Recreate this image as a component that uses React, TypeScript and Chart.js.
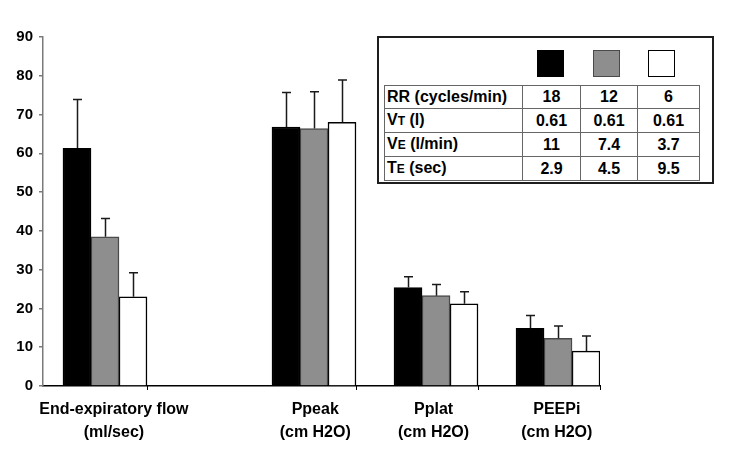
import React, { useEffect, useRef } from "react";
import { Chart, registerables } from "chart.js";

Chart.register(...registerables);

// ---- data ----
const categoryLabels: string[][] = [
  ["End-expiratory flow", "(ml/sec)"],
  ["Ppeak", "(cm H2O)"],
  ["Pplat", "(cm H2O)"],
  ["PEEPi", "(cm H2O)"],
];
const seriesNames = ["RR 18", "RR 12", "RR 6"];
const rr18Values = [61.3, 66.8, 25.4, 14.9];
const rr18Sd = [12.6, 8.9, 2.8, 3.3];
const rr12Values = [38.5, 66.4, 23.3, 12.3];
const rr12Sd = [4.7, 9.5, 2.9, 3.2];
const rr6Values = [23.0, 68.0, 21.2, 9.0];
const rr6Sd = [6.2, 10.9, 3.1, 3.9];

const rowHeads = ["RR", "V", "V", "T"];
const rowSubs = ["", "T", "E", "E"];
const rowUnits = [" (cycles/min)", " (l)", " (l/min)", " (sec)"];
const rrRow = ["18", "12", "6"];
const vtRow = ["0.61", "0.61", "0.61"];
const veRow = ["11", "7.4", "3.7"];
const teRow = ["2.9", "4.5", "9.5"];

// ---- layout (not data) ----
const groupPos = [0.287, 2, 3, 4];
const labelPos = [0.36, 2.01, 2.98, 3.99];
const xMin = -0.221;
const xMax = 4.344;
const halfGroup = 0.342;

const FONT = "'Liberation Sans', Arial, Helvetica, sans-serif";
const fills = ["#000000", "#8e8e8e", "#ffffff"];
const borders = ["#000000", "#4a4a4a", "#000000"];

const allValues = [rr18Values, rr12Values, rr6Values];
const allSd = [rr18Sd, rr12Sd, rr6Sd];
const tableValues = [rrRow, vtRow, veRow, teRow];

const errorBarPlugin = {
  id: "errorBars",
  afterDatasetsDraw(chart: any) {
    const ctx = chart.ctx;
    const yScale = chart.scales.y;
    ctx.save();
    ctx.strokeStyle = "#1a1a1a";
    ctx.lineWidth = 1.5;
    allValues.forEach((vals, d) => {
      const meta = chart.getDatasetMeta(d);
      meta.data.forEach((bar: any, i: number) => {
        const x = Math.round(bar.x) + 0.5;
        const yTop = yScale.getPixelForValue(vals[i] + allSd[d][i]);
        const yBar = bar.y;
        ctx.beginPath();
        ctx.moveTo(x, yBar);
        ctx.lineTo(x, yTop);
        ctx.moveTo(x - 4.5, yTop);
        ctx.lineTo(x + 4.5, yTop);
        ctx.stroke();
      });
    });
    ctx.restore();
  },
};

const boundaryTickPlugin = {
  id: "boundaryTicks",
  afterDraw(chart: any) {
    const ctx = chart.ctx;
    const xScale = chart.scales.x;
    const bottom = chart.chartArea.bottom;
    ctx.save();
    ctx.strokeStyle = "#000";
    ctx.lineWidth = 1;
    groupPos.forEach((g) => {
      const px = Math.round(xScale.getPixelForValue(g + halfGroup)) + 0.5;
      ctx.beginPath();
      ctx.moveTo(px, bottom);
      ctx.lineTo(px, bottom + 4);
      ctx.stroke();
    });
    ctx.restore();
  },
};

function LegendTable() {
  const colW = [138, 58, 57, 62];
  const cell = (extra: any) => ({
    border: "1px solid #666",
    height: 22,
    padding: 0,
    fontFamily: FONT,
    fontWeight: 700,
    fontSize: 16,
    color: "#000",
    lineHeight: "22px",
    whiteSpace: "nowrap" as const,
    ...extra,
  });
  return (
    <div
      style={{
        position: "absolute",
        left: 377,
        top: 36,
        width: 333,
        height: 144,
        border: "2px solid #1e1e1e",
        background: "#fff",
        boxSizing: "content-box",
      }}
    >
      {fills.map((f, i) => (
        <div
          key={i}
          title={seriesNames[i]}
          style={{
            position: "absolute",
            left: [158, 214, 269][i],
            top: 12,
            width: 25,
            height: 25,
            background: f,
            border: `1.5px solid ${borders[i]}`,
          }}
        />
      ))}
      <table
        style={{
          position: "absolute",
          left: 5,
          top: 47,
          borderCollapse: "collapse",
          tableLayout: "fixed",
          width: colW.reduce((a, b) => a + b, 0),
        }}
      >
        <colgroup>
          {colW.map((w, i) => (
            <col key={i} style={{ width: w }} />
          ))}
        </colgroup>
        <tbody>
          {rowHeads.map((h, r) => (
            <tr key={r}>
              <td style={cell({ textAlign: "left", paddingLeft: 2 })}>
                {h}
                {rowSubs[r] ? <span style={{ fontSize: 12 }}>{rowSubs[r]}</span> : null}
                {rowUnits[r]}
              </td>
              {tableValues[r].map((v, c) => (
                <td key={c} style={cell({ textAlign: "center" })}>
                  {v}
                </td>
              ))}
            </tr>
          ))}
        </tbody>
      </table>
    </div>
  );
}

export default function App() {
  const canvasRef = useRef<HTMLCanvasElement | null>(null);

  useEffect(() => {
    if (!canvasRef.current) return;
    const datasets = allValues.map((vals, d) => ({
      label: seriesNames[d],
      data: vals.map((v, i) => ({ x: groupPos[i], y: v })),
      backgroundColor: fills[d],
      borderColor: borders[d],
      borderWidth: 1.5,
      barThickness: 28,
    }));
    const chart = new Chart(canvasRef.current, {
      type: "bar",
      data: { datasets },
      options: {
        animation: false,
        responsive: false,
        maintainAspectRatio: false,
        layout: { padding: { left: 0, right: 134, top: 37, bottom: 0 } },
        plugins: { legend: { display: false }, tooltip: { enabled: false } },
        scales: {
          x: {
            type: "linear",
            offset: false,
            min: xMin,
            max: xMax,
            grid: { display: false, drawTicks: false, offset: false },
            border: { display: true, color: "#000", width: 1.5 },
            afterBuildTicks: (scale: any) => {
              scale.ticks = labelPos.map((v) => ({ value: v }));
            },
            afterFit: (scale: any) => {
              scale.height = 81;
            },
            ticks: {
              autoSkip: false,
              maxRotation: 0,
              minRotation: 0,
              padding: 12,
              color: "#000",
              font: { family: FONT, size: 16, weight: "bold", lineHeight: 1.45 },
              callback: (_v: any, index: number) => categoryLabels[index],
            },
          },
          y: {
            min: 0,
            max: 90,
            grid: { drawOnChartArea: false, drawTicks: true, tickLength: 4, color: "#7a7a7a", lineWidth: 1.5 },
            border: { display: true, color: "#7a7a7a", width: 1.5 },
            afterFit: (scale: any) => {
              scale.width = 43;
            },
            ticks: {
              stepSize: 10,
              padding: 6,
              color: "#000",
              font: { family: FONT, size: 15, weight: "bold" },
            },
          },
        },
      },
      plugins: [errorBarPlugin, boundaryTickPlugin],
    } as any);
    return () => chart.destroy();
  }, []);

  return (
    <div style={{ position: "absolute", left: 0, top: 0, width: 734, height: 467, background: "#fff" }}>
      <canvas ref={canvasRef} width={734} height={467} style={{ display: "block", width: 734, height: 467 }} />
      <LegendTable />
    </div>
  );
}
